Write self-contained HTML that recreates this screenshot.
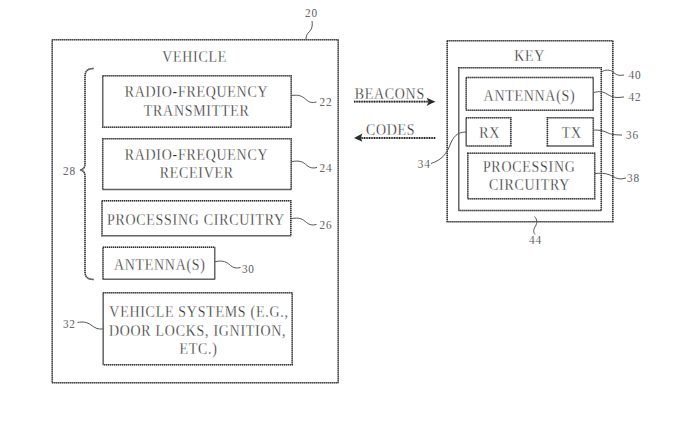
<!DOCTYPE html>
<html><head><meta charset="utf-8">
<style>
html,body{margin:0;padding:0;background:#fff;width:700px;height:433px;overflow:hidden}
svg{display:block}
text{font-family:"Liberation Serif",serif;fill:#2a2a2a;stroke:#fff}
.t{font-size:15px;stroke-width:0.28;letter-spacing:0.8px}
.n{font-size:12.5px;stroke-width:0.2;letter-spacing:0.9px}
.b{fill:none;stroke:#9a9a9a;stroke-width:1.4}
.d{fill:none;stroke:#333;stroke-width:1.5;stroke-dasharray:1 1}
.l{fill:none;stroke:#555;stroke-width:1}
</style></head>
<body>
<svg width="700" height="433" viewBox="0 0 700 433">
<!-- VEHICLE -->
<text transform="matrix(0.9 0 0 1.05 31.190 -0.850)" class="n" x="311.5" y="17" text-anchor="middle">20</text>
<path class="l" d="M312 21 C313 27 311 30 309 32 C307 34 306 36 306 39"/>
<rect class="b" x="52.2" y="39.7" width="286" height="343"/><rect class="d" x="52.2" y="39.7" width="286" height="343"/>
<text transform="matrix(0.93 0 0 1.05 13.622 -3.100)" class="t" x="194.6" y="62" text-anchor="middle">VEHICLE</text>
<path class="b" d="M93.5 68.5 C88 68.5 85 71 85 76 L85 164 C85 168 83 169.5 80 170 C83 170.5 85 172 85 176 L85 272 C85 277 88 279.5 93.5 279.5"/><path class="d" d="M93.5 68.5 C88 68.5 85 71 85 76 L85 164 C85 168 83 169.5 80 170 C83 170.5 85 172 85 176 L85 272 C85 277 88 279.5 93.5 279.5"/>
<text transform="matrix(0.9 0 0 1.05 6.990 -8.775)" class="n" x="69.5" y="175.5" text-anchor="middle">28</text>

<rect class="b" x="102.7" y="75.8" width="188.5" height="51.4"/><rect class="d" x="102.7" y="75.8" width="188.5" height="51.4"/>
<text transform="matrix(0.93 0 0 1.05 13.755 -4.875)" class="t" x="196.5" y="97.5" text-anchor="middle">RADIO-FREQUENCY</text>
<text transform="matrix(0.93 0 0 1.05 13.769 -5.800)" class="t" x="196.7" y="116" text-anchor="middle">TRANSMITTER</text>
<path class="l" d="M291.5 95.5 C299 94.5 302 96 306 99.5 C309 102.5 312 103 316.5 102"/>
<text transform="matrix(0.9 0 0 1.05 32.640 -5.300)" class="n" x="326" y="106" text-anchor="middle">22</text>

<rect class="b" x="102.7" y="138.7" width="188.5" height="50.8"/><rect class="d" x="102.7" y="138.7" width="188.5" height="50.8"/>
<text transform="matrix(0.93 0 0 1.05 13.755 -8.000)" class="t" x="196.5" y="160" text-anchor="middle">RADIO-FREQUENCY</text>
<text transform="matrix(0.93 0 0 1.05 13.776 -8.900)" class="t" x="196.8" y="178" text-anchor="middle">RECEIVER</text>
<path class="l" d="M291.5 161.7 C300 160 303 162 307 165.5 C310 168 313 168.5 317 167.5"/>
<text transform="matrix(0.9 0 0 1.05 32.640 -8.600)" class="n" x="326" y="172" text-anchor="middle">24</text>

<rect class="b" x="102" y="200.8" width="188.8" height="34.9"/><rect class="d" x="102" y="200.8" width="188.8" height="34.9"/>
<text transform="matrix(0.93 0 0 1.05 13.713 -11.250)" class="t" x="195.9" y="225" text-anchor="middle">PROCESSING CIRCUITRY</text>
<path class="l" d="M291 218.7 C299.5 217 302.5 219 306.5 222.5 C309.5 225 312.5 225.5 316.5 224.5"/>
<text transform="matrix(0.9 0 0 1.05 32.640 -11.475)" class="n" x="326" y="229.5" text-anchor="middle">26</text>

<rect class="b" x="103" y="247.2" width="111.7" height="32.1"/><rect class="d" x="103" y="247.2" width="111.7" height="32.1"/>
<text transform="matrix(0.93 0 0 1.05 11.186 -13.525)" class="t" x="159.8" y="270.5" text-anchor="middle">ANTENNA(S)</text>
<path class="l" d="M215 261.7 C223.5 260 226.5 262 230.5 265.5 C233.5 268 236.5 268.5 240.5 267.5"/>
<text transform="matrix(0.9 0 0 1.05 24.870 -13.650)" class="n" x="248.3" y="273" text-anchor="middle">30</text>

<rect class="b" x="103.2" y="292.8" width="189" height="71.9"/><rect class="d" x="103.2" y="292.8" width="189" height="71.9"/>
<text transform="matrix(0.93 0 0 1.05 13.930 -15.850)" class="t" x="199" y="317" text-anchor="middle">VEHICLE SYSTEMS (E.G.,</text>
<text transform="matrix(0.93 0 0 1.05 13.832 -16.800)" class="t" x="197.6" y="336" text-anchor="middle">DOOR LOCKS, IGNITION,</text>
<text transform="matrix(0.93 0 0 1.05 13.895 -17.700)" class="t" x="198.5" y="354" text-anchor="middle">ETC.)</text>
<path class="l" d="M77.5 322.5 C83 321.5 87 322 91 325 C95 328 98 329.5 103 329"/>
<text transform="matrix(0.9 0 0 1.05 6.970 -16.400)" class="n" x="69.3" y="328" text-anchor="middle">32</text>

<!-- arrows -->
<text transform="matrix(0.93 0 0 1.05 27.286 -4.950)" class="t" x="389.8" y="99" text-anchor="middle">BEACONS</text>
<line x1="354" y1="101.7" x2="430" y2="101.7" stroke="#888" stroke-width="1.7"/><line x1="354" y1="101.7" x2="430" y2="101.7" stroke="#222" stroke-width="1.8" stroke-dasharray="1.1 1.4"/>
<path d="M435.5 101.8 Q430 99.5 426.6 97.8 L428.6 101.8 L426.6 106 Q430 104 435.5 101.8 Z" fill="#2a2a2a"/>
<text transform="matrix(0.93 0 0 1.05 27.342 -6.750)" class="t" x="390.6" y="135" text-anchor="middle">CODES</text>
<line x1="359" y1="138" x2="435.5" y2="138" stroke="#888" stroke-width="1.7"/><line x1="359" y1="138" x2="435.5" y2="138" stroke="#222" stroke-width="1.8" stroke-dasharray="1.1 1.4"/>
<path d="M354 138.1 Q359 135.5 362.4 133.6 L360.8 138.1 L362.4 141.8 Q359 140 354 138.1 Z" fill="#2a2a2a"/>

<!-- KEY -->
<rect class="b" x="447.2" y="40.7" width="165.6" height="181"/><rect class="d" x="447.2" y="40.7" width="165.6" height="181"/>
<text transform="matrix(0.93 0 0 1.05 37.079 -3.050)" class="t" x="529.7" y="61" text-anchor="middle">KEY</text>
<rect class="b" x="458.7" y="67.7" width="142.6" height="142.8"/><rect class="d" x="458.7" y="67.7" width="142.6" height="142.8"/>
<path class="l" d="M601.5 72 C605 69.5 610 69.5 613 72 C616 74.5 618 76 624 75"/>
<text transform="matrix(0.9 0 0 1.05 63.540 -3.975)" class="n" x="635" y="79.5" text-anchor="middle">40</text>
<rect class="b" x="466.2" y="77.5" width="127.1" height="32.8"/><rect class="d" x="466.2" y="77.5" width="127.1" height="32.8"/>
<text transform="matrix(0.93 0 0 1.05 37.065 -5.030)" class="t" x="529.5" y="100.6" text-anchor="middle">ANTENNA(S)</text>
<path class="l" d="M594 92.5 C599 91 603 91.5 607 94 C610 96 613 97.5 618 97.5 L624 97"/>
<text transform="matrix(0.9 0 0 1.05 63.540 -5.050)" class="n" x="635" y="101" text-anchor="middle">42</text>
<rect class="b" x="466.2" y="117.7" width="44.6" height="28.3"/><rect class="d" x="466.2" y="117.7" width="44.6" height="28.3"/>
<text transform="matrix(0.93 0 0 1.05 34.279 -6.885)" class="t" x="489.7" y="137.7" text-anchor="middle">RX</text>
<rect class="b" x="547.4" y="117.7" width="45.9" height="28.3"/><rect class="d" x="547.4" y="117.7" width="45.9" height="28.3"/>
<text transform="matrix(0.93 0 0 1.05 40.026 -6.885)" class="t" x="571.8" y="137.7" text-anchor="middle">TX</text>
<path class="l" d="M594 130 C599 130 603 130.5 607 132.5 C610 134 613 135 622 135"/>
<text transform="matrix(0.9 0 0 1.05 63.290 -6.975)" class="n" x="632.5" y="139.5" text-anchor="middle">36</text>
<path class="l" d="M466 132 C457 132 453 137 450 145 C447 153 442 160 431 163.5"/>
<text transform="matrix(0.9 0 0 1.05 42.460 -8.425)" class="n" x="424.2" y="168.5" text-anchor="middle">34</text>
<rect class="b" x="467.8" y="153.2" width="126.9" height="45.6"/><rect class="d" x="467.8" y="153.2" width="126.9" height="45.6"/>
<text transform="matrix(0.93 0 0 1.05 37.044 -8.615)" class="t" x="529.2" y="172.3" text-anchor="middle">PROCESSING</text>
<text transform="matrix(0.93 0 0 1.05 37.065 -9.500)" class="t" x="529.5" y="190" text-anchor="middle">CIRCUITRY</text>
<path class="l" d="M595 173.5 C600 173 605 173 610 175 C614 177 617 179 621 179 L626 178"/>
<text transform="matrix(0.9 0 0 1.05 63.390 -9.100)" class="n" x="633.5" y="182" text-anchor="middle">38</text>
<path class="l" d="M534.5 216.5 C537 219 537.5 223 535.5 226 C533.5 229 533 232 535 234.5"/>
<text transform="matrix(0.9 0 0 1.05 53.590 -12.225)" class="n" x="535.5" y="244.5" text-anchor="middle">44</text>
</svg>
</body></html>
